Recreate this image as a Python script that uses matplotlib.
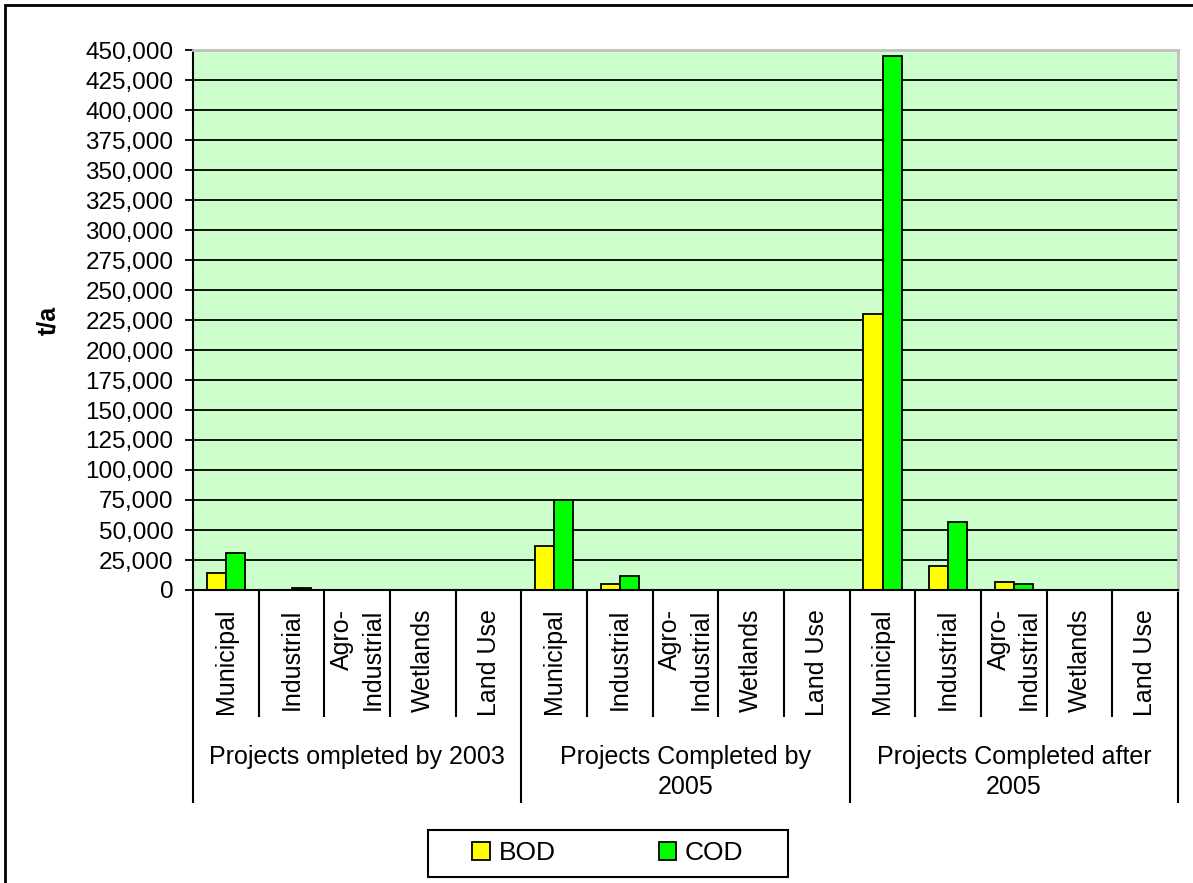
import matplotlib
matplotlib.use("Agg")
import matplotlib.pyplot as plt
import numpy as np
from matplotlib.patches import Rectangle
from matplotlib.ticker import FuncFormatter, MultipleLocator
from matplotlib.transforms import blended_transform_factory

plt.rcParams['font.family'] = ['Liberation Sans', 'DejaVu Sans']

# Project categories within each completion period
categories = ["Municipal", "Industrial", "Agro-\nIndustrial", "Wetlands", "Land Use"]
groups = ["Projects ompleted by 2003",
          "Projects Completed by\n2005",
          "Projects Completed after\n2005"]

# Load reductions in t/a, in order: group by group, category by category
bod = [14000, 0, 0, 0, 0,
       37000, 5000, 0, 0, 0,
       230000, 20000, 7000, 0, 0]
cod = [30500, 1500, 0, 0, 0,
       75000, 12000, 0, 0, 0,
       445000, 57000, 5000, 0, 0]

series_names = ["BOD", "COD"]
series_colors = ["#FFFF00", "#00FF00"]

W, H = 1193, 883
fig = plt.figure(figsize=(W / 100, H / 100), dpi=100)
fig.patch.set_facecolor("white")

# plot area in pixels
left, right, top, bottom = 193, 1178, 50, 590
ax = fig.add_axes([left / W, 1 - bottom / H, (right - left) / W, (bottom - top) / H])
ax.set_facecolor("#CCFFCC")

n = len(bod)
x = np.arange(n) + 0.5
bw = 0.29
ax.bar(x - bw / 2, bod, width=bw, color=series_colors[0], edgecolor="black",
       linewidth=1.3, label=series_names[0], zorder=2)
ax.bar(x + bw / 2, cod, width=bw, color=series_colors[1], edgecolor="black",
       linewidth=1.3, label=series_names[1], zorder=2)

ax.set_xlim(0, n)
ax.set_ylim(0, 450000)
ax.yaxis.set_major_locator(MultipleLocator(25000))
ax.yaxis.set_major_formatter(FuncFormatter(lambda v, p: f"{int(v):,}"))
ax.tick_params(axis="y", direction="out", length=6, width=1.3, pad=8,
               labelsize=17.5, colors="black")
ax.set_xticks([])

# horizontal gridlines
for v in np.arange(25000, 450000, 25000):
    ax.axhline(v, color="black", linewidth=1.3, zorder=1)

for s in ["top", "right"]:
    ax.spines[s].set_color("#C0C0C0")
    ax.spines[s].set_linewidth(2)
for s in ["left", "bottom"]:
    ax.spines[s].set_color("black")
    ax.spines[s].set_linewidth(1.5)
ax.spines["bottom"].set_zorder(3)

ax.set_ylabel("t/a", fontsize=18, fontweight="bold", labelpad=18)

# category axis: separators, rotated labels, group labels
ph = bottom - top
def frac(ypx):
    return (bottom - ypx) / ph

trans = blended_transform_factory(ax.transData, ax.transAxes)
for i in range(n + 1):
    y_end = 803 if i % 5 == 0 else 717
    ax.plot([i, i], [0, frac(y_end)], transform=trans, color="black",
            linewidth=1.5, clip_on=False, solid_capstyle="butt")

for g in range(len(groups)):
    for c, name in enumerate(categories):
        ax.text(g * 5 + c + 0.5, frac(609), name, transform=trans, rotation=90,
                ha="center", va="top", multialignment="right",
                fontsize=18, linespacing=1.35)
    ax.text(g * 5 + 2.5, frac(745), groups[g], transform=trans,
            ha="center", va="top", fontsize=18, linespacing=1.3)

# legend
fig.legend(loc="center", bbox_to_anchor=(608 / W, 1 - 853.5 / H), ncol=2,
           frameon=False, fontsize=19, handlelength=0.65, handleheight=0.65,
           handletextpad=0.35, columnspacing=3.9)
fig.patches.append(Rectangle((428 / W, 1 - 877 / H), 360 / W, 47 / H,
                             transform=fig.transFigure, fill=False,
                             edgecolor="black", linewidth=1.5))

# outer chart frame
fig.patches.append(Rectangle((5 / W, -0.05), 1.2, 1 - 5 / H + 0.05,
                             transform=fig.transFigure, fill=False,
                             edgecolor="black", linewidth=2))

fig.savefig("out.png", dpi=100, facecolor="white")
